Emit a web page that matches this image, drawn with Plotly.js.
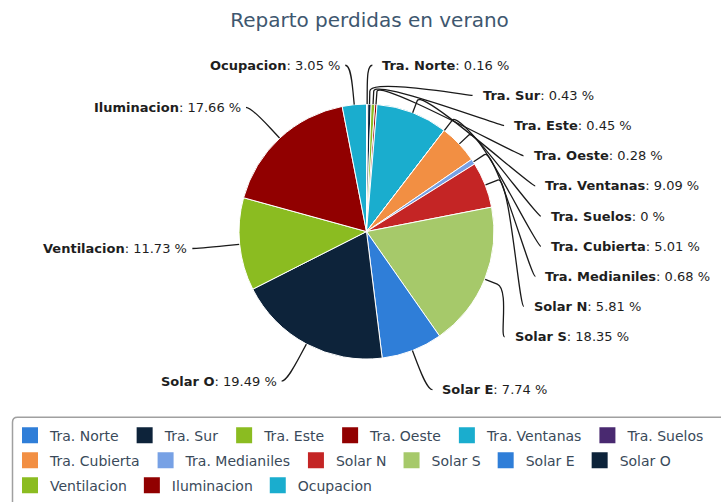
<!DOCTYPE html>
<html><head><meta charset="utf-8">
<script src="https://cdn.plot.ly/plotly-3.0.1.min.js"></script>
<style>html,body{margin:0;padding:0;background:#fff;} #chart{width:721px;height:502px;}</style>
</head><body><div id="chart"></div>
<script>
const categories = ['Tra. Norte','Tra. Sur','Tra. Este','Tra. Oeste','Tra. Ventanas','Tra. Suelos','Tra. Cubierta','Tra. Medianiles','Solar N','Solar S','Solar E','Solar O','Ventilacion','Iluminacion','Ocupacion'];
const percentages = [0.16,0.43,0.45,0.28,9.09,0,5.01,0.68,5.81,18.35,7.74,19.49,11.73,17.66,3.05];
const colors = ['#2f7ed8','#0d233a','#8bbc21','#910000','#1aadce','#492970','#f28f43','#77a1e5','#c42525','#a6c96a','#2f7ed8','#0d233a','#8bbc21','#910000','#1aadce'];
const legendRowSizes = [6,6,3];
const titleText = 'Reparto perdidas en verano';

const W=721, H=502;
const CX=366.5, CY=232.5, R=128;
const LABEL_DIST=42, CONN_OFF=13, SLOT=30.3, PAD=5;
const px = x => x/W, py = y => 1 - y/H;

const total = percentages.reduce((a,b)=>a+b,0);
let cum = 0;
const pts = percentages.map((v,i)=>{
  const mid = (cum + v/2)/total; cum += v;
  const th = 2*Math.PI*mid;
  return {i, v, th, right: th < Math.PI};
});
const RL = R + LABEL_DIST;
const topY = CY - RL + 3;
pts.forEach(p=>{ p.natY = CY - RL*Math.cos(p.th); });
function layoutSide(list){
  let prev = -Infinity;
  list.forEach(p=>{
    const y = Math.max(p.natY, prev + SLOT, topY);
    p.atTop = (y === topY);
    p.y = y; prev = y;
  });
}
layoutSide(pts.filter(p=>p.right).sort((a,b)=>a.th-b.th));
layoutSide(pts.filter(p=>!p.right).sort((a,b)=>b.th-a.th));

const shapes = [], annotations = [];
pts.forEach(p=>{
  const sgn = p.right ? 1 : -1;
  const yx = p.atTop ? p.natY : p.y;
  const dy = Math.max(-1, Math.min(1, (yx - CY)/RL));
  const x = CX + sgn*(Math.cos(Math.asin(dy))*RL + PAD);
  const s = Math.sin(p.th), c = Math.cos(p.th);
  const tx = CX + R*s, ty = CY - R*c;
  const bx = CX + (R+CONN_OFF)*s, by = CY - (R+CONN_OFF)*c;
  const path = `M${px(x)},${py(p.y)} C${px(x - sgn*5)},${py(p.y)} ${px(2*bx-tx)},${py(2*by-ty)} ${px(bx)},${py(by)} L${px(tx)},${py(ty)}`;
  shapes.push({type:'path', path, xref:'paper', yref:'paper', line:{color:'#1a1a1a', width:1.3}});
  annotations.push({
    xref:'paper', yref:'paper', showarrow:false,
    x: px(p.right ? x + 8 : x - 3), y: py(p.y),
    xanchor: p.right ? 'left' : 'right', yanchor:'middle',
    text: `<b>${categories[p.i]}</b>: ${p.v} %`,
    font:{family:'DejaVu Sans', size:13, color:'#1e1e1e'}
  });
});
// legend frame
shapes.push({type:'path', xref:'paper', yref:'paper',
  path:`M${px(12.5)},${py(540)} L${px(12.5)},${py(424)} Q${px(12.5)},${py(419)} ${px(17.5)},${py(419)} L${px(760)},${py(419)}`,
  line:{color:'#a0a0a0', width:1.5}});

const legendNames = ['legend','legend2','legend3'];
const rowOf = [];
legendRowSizes.forEach((n,r)=>{ for(let k=0;k<n;k++) rowOf.push(r); });
const rowY = [437.5, 462.5, 487.5];

const traces = [{
  type:'pie', labels:categories, values:percentages, sort:false,
  direction:'clockwise', rotation:0,
  marker:{colors:colors, line:{color:'#ffffff', width:1}},
  textinfo:'none', hoverinfo:'label+percent', showlegend:false,
  domain:{x:[px(CX-R), px(CX+R)], y:[py(CY+R), py(CY-R)]}
}];
categories.forEach((c,i)=>{
  traces.push({type:'scatter', mode:'markers', x:[null], y:[null], name:c,
    marker:{symbol:'square', size:16, color:colors[i]},
    legend: legendNames[rowOf[i]], showlegend:true, hoverinfo:'skip'});
});

const layout = {
  width:W, height:H, margin:{l:0,r:0,t:0,b:0},
  paper_bgcolor:'#ffffff', plot_bgcolor:'rgba(0,0,0,0)',
  title:{text:titleText, font:{family:'DejaVu Sans', size:20, color:'#3e576f'},
    x:369.5/W, xanchor:'center', xref:'paper', y:1-20/H, yanchor:'middle', yref:'container'},
  xaxis:{visible:false}, yaxis:{visible:false},
  showlegend:true,
  shapes, annotations
};
legendNames.forEach((ln,r)=>{
  layout[ln] = {orientation:'h', x:10/W, xanchor:'left', y:py(rowY[r]), yanchor:'middle',
    bgcolor:'rgba(0,0,0,0)', borderwidth:0,
    font:{family:'DejaVu Sans', size:14, color:'#3a4a5a'},
    itemclick:false, itemdoubleclick:false};
});
Plotly.newPlot('chart', traces, layout, {displayModeBar:false});
</script>
</body></html>
